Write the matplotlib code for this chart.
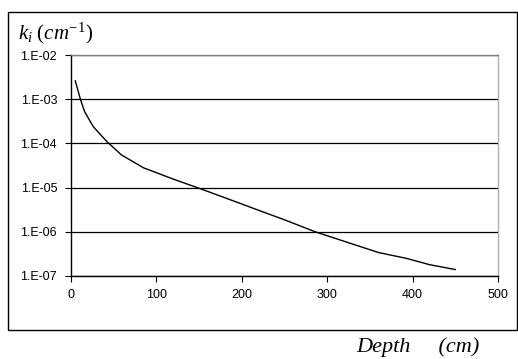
import matplotlib.pyplot as plt
from matplotlib.patches import Rectangle
from matplotlib.ticker import FixedLocator, FixedFormatter, NullLocator

# valeurs
depth = [5, 11, 16, 26, 42, 59, 85, 120, 151, 198, 221, 249, 286, 327, 360, 393, 420, 450]
k_i = [2.6e-3, 1.0e-3, 5.2e-4, 2.4e-4, 1.1e-4, 5.5e-5, 2.8e-5, 1.55e-5, 9.5e-6,
       4.4e-6, 3.0e-6, 1.9e-6, 1.0e-6, 5.5e-7, 3.4e-7, 2.5e-7, 1.8e-7, 1.4e-7]

y_ticks = [1e-7, 1e-6, 1e-5, 1e-4, 1e-3, 1e-2]
y_labels = ['1.E-07', '1.E-06', '1.E-05', '1.E-04', '1.E-03', '1.E-02']
x_ticks = [0, 100, 200, 300, 400, 500]

plt.rcParams['mathtext.fontset'] = 'custom'
plt.rcParams['mathtext.rm'] = 'Liberation Serif'
plt.rcParams['mathtext.it'] = 'Liberation Serif:italic'

fig = plt.figure(figsize=(5.18, 3.59), dpi=100)
ax = fig.add_axes([71 / 518, 1 - 276 / 359, 427 / 518, 221 / 359])

ax.plot(depth, k_i, color='black', lw=1.0)
ax.set_yscale('log')
ax.set_ylim(1e-7, 1e-2)
ax.set_xlim(0, 500)

ax.yaxis.set_major_locator(FixedLocator(y_ticks))
ax.yaxis.set_major_formatter(FixedFormatter(y_labels))
ax.yaxis.set_minor_locator(NullLocator())
ax.set_xticks(x_ticks)

for t in ax.get_yticklabels() + ax.get_xticklabels():
    t.set_family('Liberation Sans')
    t.set_fontsize(9)
ax.tick_params(axis='y', direction='out', length=4, width=0.8, pad=6)
ax.tick_params(axis='x', direction='out', length=4, width=0.8, pad=5)

ax.grid(axis='y', color='black', lw=0.9)
ax.set_axisbelow(True)
ax.spines['left'].set_color('black')
ax.spines['bottom'].set_color('black')
ax.spines['top'].set_color('#808080')
ax.spines['right'].set_color('#b0b0b0')
for s in ax.spines.values():
    s.set_linewidth(1.0)

# cadre exterieur
fig.patches.append(Rectangle((8 / 518, 1 - 330 / 359), 509 / 518, 318 / 359,
                             transform=fig.transFigure, fill=False,
                             edgecolor='black', lw=1.0))

fig.text(18 / 518, 1 - 33 / 359, r'$k_i\ (cm^{-1})$', fontsize=15, va='center', ha='left')
fig.text(480 / 518, 1 - 352 / 359, 'Depth     (cm)', fontsize=16, style='italic',
         family='Liberation Serif', va='baseline', ha='right')

fig.savefig('out.png', dpi=100)
